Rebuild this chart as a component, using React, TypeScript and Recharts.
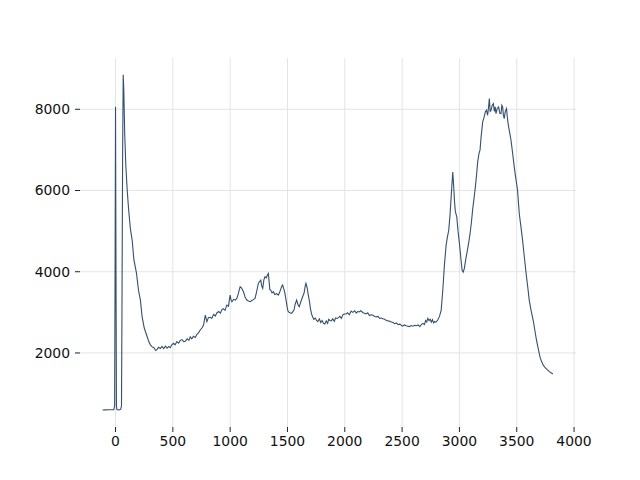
import React from "react";
import { LineChart, Line, XAxis, YAxis, ReferenceLine } from "recharts";

const LINE = "#34506f";
const GRID = "#e4e4e4";
const TICK = "#222";

// channel positions (x) and counts (y)
const channel = [
  -113, -90, -60, -30, -15, -8, -4, 0, 4, 8, 12, 30, 45, 52, 56, 62, 67, 72, 80, 90,
  102, 115, 130, 145, 160, 183, 200, 217, 232, 250, 276, 290, 304, 320, 335, 350, 363, 375, 391, 405,
  420, 435, 450, 465, 478, 490, 507, 520, 535, 550, 565, 580, 595, 609, 625, 640, 652, 665, 680, 696,
  710, 725, 739, 755, 768, 775, 783, 790, 797, 810, 826, 840, 855, 870, 884, 900, 915, 928, 940, 955,
  971, 985, 993, 1000, 1008, 1015, 1030, 1045, 1058, 1070, 1080, 1087, 1100, 1116, 1130, 1145, 1160, 1174, 1190, 1205,
  1217, 1230, 1246, 1257, 1267, 1275, 1284, 1294, 1304, 1315, 1325, 1333, 1340, 1346, 1354, 1365, 1377, 1390, 1405, 1420,
  1430, 1440, 1450, 1458, 1468, 1478, 1490, 1500, 1507, 1520, 1536, 1550, 1557, 1567, 1580, 1590, 1603, 1615, 1632, 1645,
  1655, 1661, 1672, 1682, 1690, 1700, 1710, 1719, 1730, 1742, 1754, 1765, 1778, 1790, 1802, 1814, 1826, 1838, 1850, 1860,
  1870, 1882, 1895, 1908, 1920, 1932, 1945, 1957, 1970, 1985, 2000, 2012, 2025, 2040, 2055, 2070, 2087, 2100, 2112, 2125,
  2140, 2159, 2172, 2185, 2200, 2215, 2230, 2246, 2260, 2275, 2290, 2305, 2320, 2333, 2348, 2362, 2378, 2392, 2406, 2420,
  2435, 2450, 2465, 2480, 2493, 2505, 2520, 2535, 2550, 2565, 2580, 2595, 2610, 2625, 2640, 2655, 2668, 2681, 2695, 2705,
  2715, 2724, 2735, 2745, 2755, 2765, 2775, 2783, 2795, 2811, 2826, 2841, 2855, 2870, 2884, 2895, 2907, 2918, 2928, 2936,
  2942, 2950, 2958, 2965, 2977, 2988, 3000, 3012, 3023, 3033, 3043, 3055, 3067, 3080, 3093, 3104, 3115, 3127, 3139, 3150,
  3159, 3170, 3180, 3189, 3196, 3203, 3215, 3226, 3236, 3246, 3254, 3261, 3268, 3276, 3286, 3296, 3305, 3312, 3319, 3330,
  3342, 3352, 3363, 3370, 3377, 3384, 3391, 3400, 3411, 3420, 3429, 3440, 3450, 3465, 3478, 3492, 3507, 3515, 3522, 3537,
  3551, 3565, 3580, 3595, 3609, 3625, 3643, 3658, 3672, 3688, 3702, 3715, 3730, 3750, 3768, 3785, 3795, 3806, 3815,
];

const counts = [
  595, 598, 600, 602, 605, 700, 4000, 8060, 4000, 700, 610, 600, 610, 700, 3000, 7000, 8850, 8500, 7400, 6600,
  6000, 5500, 5050, 4780, 4300, 3960, 3550, 3300, 2890, 2620, 2400, 2280, 2200, 2150, 2130, 2060, 2090, 2140, 2110, 2160,
  2110, 2170, 2120, 2160, 2130, 2200, 2238, 2200, 2280, 2240, 2310, 2330, 2280, 2290, 2350, 2310, 2396, 2350, 2410, 2380,
  2460, 2500, 2565, 2620, 2688, 2800, 2934, 2850, 2770, 2870, 2880, 2850, 2950, 2910, 2985, 3020, 2980, 3070, 3090, 3050,
  3180, 3150, 3300, 3426, 3300, 3262, 3320, 3300, 3344, 3450, 3560, 3631, 3600, 3508, 3380, 3303, 3280, 3262, 3290, 3320,
  3344, 3500, 3713, 3760, 3795, 3650, 3590, 3800, 3877, 3850, 3920, 3959, 3750, 3560, 3549, 3480, 3508, 3440, 3460, 3426,
  3480, 3560, 3640, 3672, 3580, 3467, 3260, 3080, 3016, 2990, 2975, 3030, 3057, 3200, 3303, 3200, 3139, 3250, 3385, 3480,
  3650, 3713, 3600, 3420, 3303, 3100, 2960, 2893, 2830, 2860, 2800, 2770, 2840, 2750, 2800, 2730, 2713, 2790, 2730, 2830,
  2800, 2790, 2840, 2780, 2860, 2850, 2870, 2900, 2850, 2950, 2960, 2960, 2990, 2940, 3030, 3000, 3040, 2980, 3020, 3010,
  3040, 2990, 2980, 2960, 2990, 2920, 2940, 2930, 2900, 2890, 2900, 2850, 2860, 2840, 2830, 2800, 2790, 2780, 2760, 2750,
  2720, 2740, 2700, 2710, 2680, 2660, 2690, 2670, 2660, 2650, 2674, 2660, 2680, 2670, 2690, 2650, 2700, 2729, 2700, 2800,
  2760, 2852, 2800, 2830, 2760, 2820, 2740, 2770, 2760, 2811, 2900, 3057, 3549, 4200, 4656, 4850, 5024, 5400, 5843, 6200,
  6458, 6100, 5700, 5474, 5351, 5000, 4697, 4350, 4041, 3990, 4082, 4300, 4490, 4700, 4943, 5200, 5516, 5800, 6089, 6400,
  6700, 6900, 7000, 7319, 7500, 7688, 7800, 7934, 7980, 7852, 8050, 8262, 7950, 7975, 8100, 8139, 7950, 8060, 7893, 8020,
  8057, 7900, 7893, 8100, 8057, 7850, 7770, 7950, 8016, 7750, 7565, 7400, 7237, 6900, 6582, 6300, 6008, 5700, 5435, 5100,
  4778, 4400, 3999, 3650, 3303, 3050, 2811, 2560, 2320, 2100, 1910, 1800, 1705, 1630, 1582, 1540, 1520, 1500, 1480,
];

const xTicks = [0, 500, 1000, 1500, 2000, 2500, 3000, 3500, 4000];
const yTicks = [2000, 4000, 6000, 8000];

const data = channel.map((x, i) => ({ x, y: counts[i] }));

const tickStyle = { fontSize: 13.9, fill: "#111", fontFamily: "DejaVu Sans" };

export default function App() {
  return (
    <div style={{ position: "absolute", left: 0, top: 0, background: "#fff" }}>
      <LineChart
        width={640}
        height={480}
        data={data}
        margin={{ top: 58, right: 64, bottom: 23, left: 0 }}
      >
        <XAxis
          dataKey="x"
          type="number"
          domain={[-310, 4017]}
          ticks={xTicks}
          allowDataOverflow
          axisLine={false}
          tickLine={{ stroke: TICK }}
          tickSize={5}
          tickMargin={4}
          height={30}
          tick={tickStyle}
        />
        <YAxis
          type="number"
          domain={[177, 9263]}
          ticks={yTicks}
          allowDataOverflow
          axisLine={false}
          tickLine={{ stroke: TICK }}
          tickSize={5}
          tickMargin={5}
          width={80}
          tick={tickStyle}
        />
        {/* grid only at the ticks, no frame */}
        {xTicks.map((t) => (
          <ReferenceLine key={"gx" + t} x={t} stroke={GRID} strokeWidth={1} ifOverflow="visible" />
        ))}
        {yTicks.map((t) => (
          <ReferenceLine key={"gy" + t} y={t} stroke={GRID} strokeWidth={1} ifOverflow="visible" />
        ))}
        <Line
          type="linear"
          dataKey="y"
          stroke={LINE}
          strokeWidth={1.1}
          dot={false}
          isAnimationActive={false}
        />
      </LineChart>
    </div>
  );
}
